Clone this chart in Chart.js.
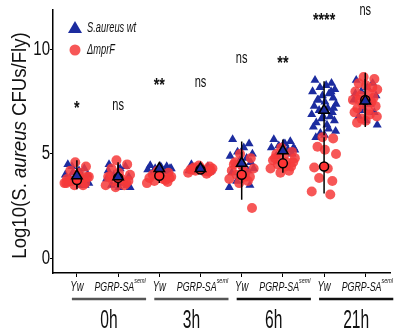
<!DOCTYPE html>
<html>
<head>
<meta charset="utf-8">
<script src="https://cdn.jsdelivr.net/npm/chart.js@4.4.1/dist/chart.umd.min.js"></script>
<style>
  html, body { margin: 0; padding: 0; background: #fff; }
  #wrap { width: 400px; height: 333px; position: relative; }
</style>
</head>
<body>
<div id="wrap"><canvas id="cfuChart"></canvas></div>
<script>
// groups left to right: genotype within timepoint
const timepoints = ['0h', '3h', '6h', '21h'];
const genotypes = ['Yw', 'PGRP-SA'];
const genotypeSup = ['', 'seml'];

// log10 CFU per fly, one list per group
const wtCfu = [
  [4.5, 4.3, 4.2, 4.1, 4.0, 4.0, 3.9, 3.9, 3.8, 3.8, 3.7, 3.6, 3.6, 3.5, 4.4, 3.5],
  [4.5, 4.4, 4.3, 4.0, 3.9, 3.8, 3.7, 3.6, 3.5, 3.5, 3.4, 3.4, 4.2, 3.6],
  [4.45, 4.4, 4.35, 4.3, 4.3, 4.25, 4.2, 4.2, 4.15, 4.1, 4.4, 4.3],
  [4.5, 4.4, 4.3, 4.3, 4.2, 4.2, 4.1, 4.35, 4.15],
  [5.7, 5.5, 5.3, 5.1, 5.0, 4.9, 4.8, 4.7, 4.6, 4.5, 4.4, 4.3, 4.1, 3.9, 3.7, 3.5, 3.4, 4.2],
  [5.7, 5.6, 5.5, 5.4, 5.3, 5.3, 5.2, 5.1, 5.0, 4.9, 5.5, 5.2],
  [8.55, 8.4, 8.3, 8.2, 8.1, 8.0, 7.9, 7.8, 7.7, 7.6, 7.5, 7.4, 7.3, 7.2, 7.1, 7.0,
   6.9, 6.8, 6.7, 6.6, 6.5, 6.4, 6.3, 6.2, 6.1, 6.0, 5.9, 5.8, 8.0, 7.6, 7.2, 6.8],
  [8.55, 8.4, 8.2, 8.0, 7.8, 7.6, 7.4, 7.2, 7.0, 6.8, 6.6, 6.4, 7.9, 7.5, 7.1]
];
const mprfCfu = [
  [4.6, 4.4, 4.2, 4.0, 3.9, 3.8, 3.8, 3.7, 3.6, 3.6, 3.5, 3.5, 3.9, 3.7, 4.1, 3.6],
  [4.7, 4.5, 4.3, 4.1, 4.0, 3.9, 3.8, 3.7, 3.6, 3.5, 3.5, 3.4, 3.7, 3.9],
  [4.2, 4.1, 4.0, 3.95, 3.9, 3.85, 3.8, 3.7, 3.65, 3.6, 3.75, 4.05, 3.85],
  [4.45, 4.4, 4.35, 4.3, 4.3, 4.25, 4.2, 4.2, 4.15, 4.1, 4.05, 4.3, 4.2, 4.25],
  [5.0, 4.8, 4.6, 4.4, 4.3, 4.2, 4.1, 4.0, 3.9, 3.8, 3.7, 3.6, 2.4, 4.5, 3.9],
  [5.3, 5.1, 5.0, 4.9, 4.8, 4.7, 4.6, 4.5, 4.4, 4.3, 4.2, 4.1, 4.6, 4.8, 4.4],
  [5.8, 5.75, 5.35, 5.2, 5.0, 4.35, 4.3, 3.85, 3.7, 3.2, 3.05],
  [8.7, 8.6, 8.4, 8.3, 8.1, 8.0, 7.9, 7.8, 7.7, 7.6, 7.5, 7.4, 7.3, 7.2, 7.1, 7.0,
   6.9, 6.8, 6.7, 6.6, 6.5, 8.2, 7.6]
];

// mean and spread per group
const wtMean   = [3.95, 3.9, 4.3, 4.3, 4.55, 5.15, 7.1, 7.55];
const wtLow    = [3.3, 3.4, 4.1, 4.1, 3.6, 4.7, 5.9, 6.3];
const wtHigh   = [4.7, 4.6, 4.55, 4.55, 5.6, 5.7, 8.5, 8.9];
const mprfMean = [3.75, 3.85, 3.95, 4.25, 4.0, 4.55, 4.4, 7.6];
const mprfLow  = [3.4, 3.4, 3.6, 4.05, 2.8, 4.1, 3.1, 6.6];
const mprfHigh = [4.2, 4.5, 4.3, 4.45, 5.1, 5.0, 5.8, 8.6];

const signif  = ['*', 'ns', '**', 'ns', 'ns', '**', '****', 'ns'];
const signifY = [7.35, 7.35, 8.45, 8.45, 9.6, 9.5, 11.6, 11.9];

const yTicks = [0, 5, 10];

// sideways spread so the dots don't stack on one line
const jitter = [-0.22, 0.18, 0.05, -0.1, 0.26, -0.28, 0.12, -0.04, 0.22, -0.16, 0.02, 0.29,
  -0.24, 0.09, -0.12, 0.2, -0.3, 0.15, -0.06, 0.25, -0.19, 0.07, -0.26, 0.11, 0.28,
  -0.09, 0.01, -0.2, 0.17, -0.14, 0.23, -0.02, 0.13, -0.25, 0.08];

const BLUE = '#1c2c9f';
const RED = 'rgba(246, 58, 58, 0.85)';
const SQ = 0.68;   // narrow lettering

function spread(groups, shift) {
  const pts = [];
  groups.forEach((vals, g) => {
    vals.forEach((v, i) => {
      pts.push({ x: g + 1 + jitter[(i + shift) % jitter.length], y: v });
    });
  });
  return pts;
}

function bars(lo, hi) {
  const pts = [];
  lo.forEach((l, g) => {
    pts.push({ x: g + 1, y: l }, { x: g + 1, y: hi[g] }, { x: g + 1, y: null });
  });
  return pts;
}

function narrowText(ctx, txt, x, y, font, align, sx) {
  ctx.save();
  ctx.font = font;
  ctx.translate(x, y);
  ctx.scale(sx, 1);
  ctx.textAlign = align;
  ctx.fillText(txt, 0, 0);
  ctx.restore();
}

function textW(ctx, txt, font, sx) {
  ctx.save();
  ctx.font = font;
  const w = ctx.measureText(txt).width * sx;
  ctx.restore();
  return w;
}

const labelsPlugin = {
  id: 'labels',
  afterDraw(chart) {
    const ctx = chart.ctx;
    const xs = chart.scales.x, ys = chart.scales.y;
    const ff = '"Liberation Sans", Arial, sans-serif';
    ctx.save();
    ctx.fillStyle = '#111';
    ctx.textBaseline = 'middle';

    // y tick labels
    ys.ticks.forEach(t => {
      narrowText(ctx, String(t.value), 50, ys.getPixelForValue(t.value), '20px ' + ff, 'right', 0.75);
    });

    // y axis title, species name in italics
    const parts = [['Log10(S. ', ''], ['aureus', 'italic '], [' CFUs/Fly)', '']];
    const tsx = 0.93;
    let total = 0;
    parts.forEach(p => { total += textW(ctx, p[0], p[1] + '20px ' + ff, tsx); });
    ctx.save();
    ctx.translate(20, (ys.top + ys.bottom) / 2 + 4);
    ctx.rotate(-Math.PI / 2);
    let px = -total / 2;
    parts.forEach(p => {
      const f = p[1] + '20px ' + ff;
      narrowText(ctx, p[0], px, 0, f, 'left', tsx);
      px += textW(ctx, p[0], f, tsx);
    });
    ctx.restore();

    // genotype labels under each tick
    for (let g = 0; g < 8; g++) {
      const cx = xs.getPixelForValue(g + 1);
      const k = g % 2;
      const main = genotypes[k], sup = genotypeSup[k];
      const mf = 'italic ' + (sup ? 13 : 14) + 'px ' + ff, sf = 'italic 8px ' + ff;
      const mw = textW(ctx, main, mf, SQ), sw = sup ? textW(ctx, sup, sf, SQ) : 0;
      const x0 = cx - (mw + sw) / 2 + (sup ? 2 : 0);
      narrowText(ctx, main, x0, 287, mf, 'left', SQ);
      if (sup) narrowText(ctx, sup, x0 + mw, 281, sf, 'left', SQ);

      // significance marks; asterisks sit high in the glyph box
      const star = signif[g] !== 'ns';
      narrowText(ctx, signif[g], cx, ys.getPixelForValue(signifY[g]) + (star ? 4 : 0),
        (star ? 'bold 18px ' : '17px ') + ff, 'center', star ? 0.8 : 0.65);
    }

    // timepoint brackets
    timepoints.forEach((tp, t) => {
      const a = xs.getPixelForValue(2 * t + 1) - 5;
      const b = xs.getPixelForValue(2 * t + 2) + 28;
      ctx.strokeStyle = t < 2 ? '#555' : '#111';
      ctx.lineWidth = 2.5;
      ctx.beginPath();
      ctx.moveTo(a, 299);
      ctx.lineTo(b, 299);
      ctx.stroke();
      narrowText(ctx, tp, (a + b) / 2, 321, '26px ' + ff, 'center', 0.6);
    });

    // legend
    ctx.fillStyle = BLUE;
    ctx.beginPath();
    ctx.moveTo(75, 21);
    ctx.lineTo(82, 33);
    ctx.lineTo(68, 33);
    ctx.closePath();
    ctx.fill();
    ctx.fillStyle = RED;
    ctx.beginPath();
    ctx.arc(75, 50, 5.5, 0, Math.PI * 2);
    ctx.fill();
    ctx.fillStyle = '#111';
    narrowText(ctx, 'S.aureus wt', 87, 28, 'italic 15px ' + ff, 'left', 0.62);
    narrowText(ctx, '\u0394mprF', 87, 50, 'italic 15px ' + ff, 'left', 0.62);
    ctx.restore();
  }
};

new Chart(document.getElementById('cfuChart'), {
  type: 'scatter',
  data: {
    datasets: [
      {
        label: 'mean wt', data: wtMean.map((m, g) => ({ x: g + 1, y: m })), order: 0,
        pointStyle: 'triangle', radius: 6, backgroundColor: BLUE, borderColor: '#000', borderWidth: 1.5
      },
      {
        label: 'mean mprF', data: mprfMean.map((m, g) => ({ x: g + 1, y: m })), order: 0,
        pointStyle: 'circle', radius: 4.5, backgroundColor: '#f33', borderColor: '#000', borderWidth: 1.5
      },
      {
        label: 'sd wt', data: bars(wtLow, wtHigh), order: 1, showLine: true, spanGaps: false,
        borderColor: '#000', borderWidth: 1.5, radius: 0
      },
      {
        label: 'sd mprF', data: bars(mprfLow, mprfHigh), order: 1, showLine: true, spanGaps: false,
        borderColor: '#000', borderWidth: 1.5, radius: 0
      },
      {
        label: '\u0394mprF', data: spread(mprfCfu, 7), order: 2,
        pointStyle: 'circle', radius: 5, backgroundColor: RED, borderWidth: 0
      },
      {
        label: 'S.aureus wt', data: spread(wtCfu, 0), order: 3,
        pointStyle: 'triangle', radius: 5.2, backgroundColor: BLUE, borderWidth: 0
      }
    ]
  },
  options: {
    responsive: true,
    maintainAspectRatio: false,
    animation: false,
    events: [],
    layout: { padding: { top: 10, right: 10, left: 0, bottom: 0 } },
    plugins: { legend: { display: false }, tooltip: { enabled: false } },
    scales: {
      x: {
        type: 'linear', min: 0.42, max: 8.6,
        afterBuildTicks: s => { s.ticks = [1, 2, 3, 4, 5, 6, 7, 8].map(v => ({ value: v })); },
        afterFit: s => { s.height = 60; },
        ticks: { display: false },
        grid: { drawOnChartArea: false, drawTicks: true, tickLength: 4, color: '#000', lineWidth: 1 },
        border: { display: true, color: '#000', width: 1.5 }
      },
      y: {
        min: -0.72, max: 11.92,
        afterBuildTicks: s => { s.ticks = yTicks.map(v => ({ value: v })); },
        afterFit: s => { s.width = 53; },
        ticks: { display: false },
        grid: { drawOnChartArea: false, drawTicks: true, tickLength: 3, color: '#000', lineWidth: 1 },
        border: { display: true, color: '#000', width: 1.5 }
      }
    }
  },
  plugins: [labelsPlugin]
});
</script>
</body>
</html>
